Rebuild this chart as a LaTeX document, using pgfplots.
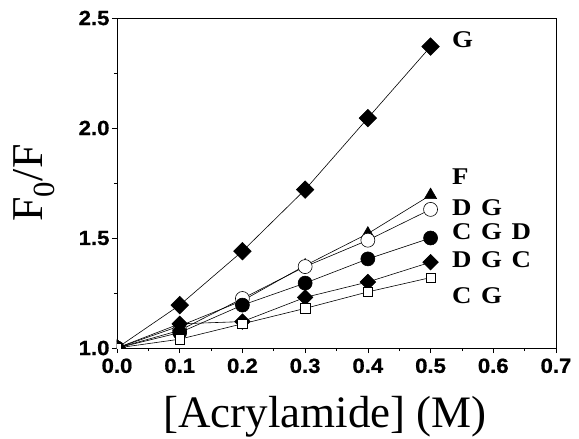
\documentclass[border=0pt]{standalone}
\usepackage{fontspec}
\setmainfont{Liberation Serif}
\newfontfamily\arialfont[FakeStretch=1.08, BoldFeatures={FakeBold=0.8}]{Liberation Sans}
\newfontfamily\labfont[FakeStretch=1.12]{Liberation Serif}
\usepackage{pgfplots}
\pgfplotsset{compat=1.18}
\begin{document}
\begin{tikzpicture}
\begin{axis}[
  at={(0,0)}, anchor=south west,
  scale only axis, width=439bp, height=330bp,
  xmin=0, xmax=0.7, ymin=1, ymax=2.5,
  xtick={0,0.1,0.2,0.3,0.4,0.5,0.6,0.7},
  ytick={1,1.5,2,2.5},
  minor x tick num=1, minor y tick num=1,
  xtick pos=bottom, ytick pos=left,
  tick align=outside,
  major tick length=5bp, minor tick length=3bp,
  axis line style={line width=0.6pt},
  every tick/.style={line width=0.6pt, black},
  /pgf/number format/assume math mode=true,
  /pgf/number format/.cd, fixed, fixed zerofill, precision=1, /pgfplots/.cd,
  ticklabel style={font=\arialfont\bfseries\fontsize{20.5bp}{22bp}\selectfont},
  xticklabel style={yshift=-2bp},
  yticklabel style={xshift=1bp},
  xlabel={[Acrylamide] (M)},
  ylabel={F\textsubscript{0}/F},
  xlabel style={font=\fontsize{45bp}{48bp}\selectfont, at={(axis description cs:0.474,-0.242)}, anchor=base},
  ylabel style={font=\fontsize{44bp}{48bp}\selectfont, at={(axis description cs:-0.189,0.5)}, anchor=center},
  clip marker paths=true,
  every axis plot/.append style={line width=0.6pt, black},
]
% G
\addplot[mark=square*, mark size=6.2bp, mark options={rotate=45, fill=black}] coordinates {
(0,1) (0.1,1.195) (0.2,1.44) (0.3,1.72) (0.4,2.045) (0.5,2.37)};
% F
\addplot[mark=triangle*, mark size=7bp, mark options={fill=black}] coordinates {
(0,1) (0.1,1.10) (0.2,1.215) (0.3,1.375) (0.4,1.52) (0.5,1.695)};
% D G
\addplot[mark=*, mark size=7bp, mark options={fill=white}] coordinates {
(0,1) (0.1,1.08) (0.2,1.225) (0.3,1.37) (0.4,1.49) (0.5,1.63)};
% C G D
\addplot[mark=*, mark size=7bp, mark options={fill=black}] coordinates {
(0,1) (0.1,1.07) (0.2,1.195) (0.3,1.295) (0.4,1.405) (0.5,1.50)};
% D G C
\addplot[mark=square*, mark size=5.5bp, mark options={rotate=45, fill=black}] coordinates {
(0,1) (0.1,1.11) (0.2,1.12) (0.3,1.23) (0.4,1.30) (0.5,1.39)};
% C G
\addplot[mark=square*, mark size=4.7bp, mark options={fill=white}] coordinates {
(0,1) (0.1,1.04) (0.2,1.11) (0.3,1.18) (0.4,1.255) (0.5,1.32)};
\begin{scope}[every node/.style={anchor=west, inner sep=0pt, font=\labfont\bfseries\fontsize{24bp}{26bp}\selectfont}]
\node at (axis cs:0.534,2.40) {G};
\node at (axis cs:0.534,1.777) {F};
\node at (axis cs:0.534,1.64) {D\hspace{0.4em}G};
\node at (axis cs:0.534,1.527) {C\hspace{0.4em}G\hspace{0.4em}D};
\node at (axis cs:0.534,1.40) {D\hspace{0.4em}G\hspace{0.4em}C};
\node at (axis cs:0.534,1.24) {C\hspace{0.4em}G};
\end{scope}
\end{axis}
\pgfresetboundingbox
\path[use as bounding box] (-117bp,-91bp) rectangle (462bp,348bp);
\end{tikzpicture}
\end{document}
